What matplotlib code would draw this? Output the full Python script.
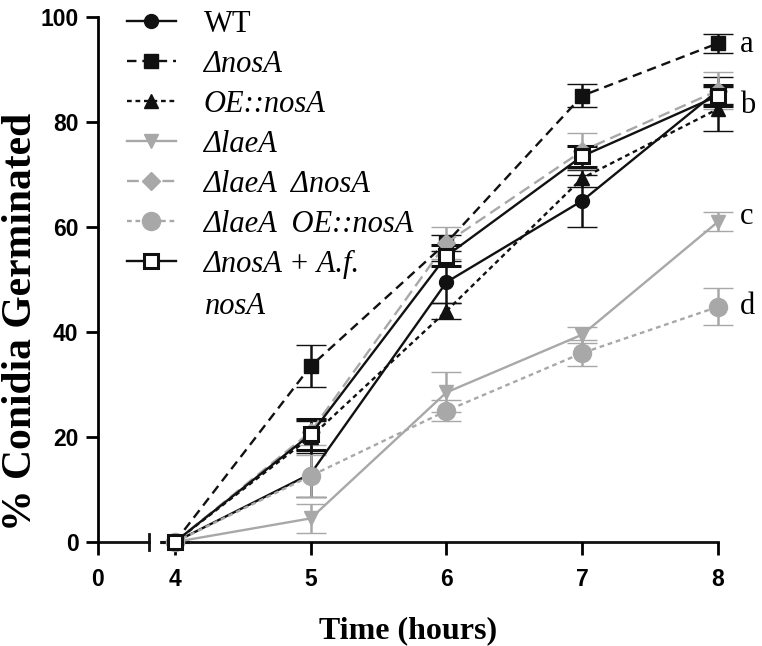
#!/usr/bin/env python3
"""Conidial germination time course, seven strains, broken time axis."""

import matplotlib
matplotlib.use("Agg")
import matplotlib.pyplot as plt

# --- data ---------------------------------------------------------------
hours = [4, 5, 6, 7, 8]

labels = ["WT", "ΔnosA", "OE::nosA", "ΔlaeA", "ΔlaeA  ΔnosA",
          "ΔlaeA  OE::nosA", "ΔnosA + A.f."]
label_tail = "nosA"  # second line of the last legend entry

wt = [0, 13, 49.5, 65, 86]
wt_err = [0, 4.5, 4, 5, 2.5]
nosa = [0, 33.5, 57, 85, 95]
nosa_err = [0, 4, 1.5, 2.2, 1.8]
oe = [0, 20, 44, 69.3, 82.5]
oe_err = [0, 3, 1.5, 1.6, 4.2]
laea = [0, 4.5, 28.5, 39.5, 61]
laea_err = [0, 2.8, 3.8, 1.5, 1.8]
laea_nosa = [0, 21, 57, 74.5, 86]
laea_nosa_err = [0, 2.5, 3, 3.5, 3.5]
laea_oe = [0, 12.6, 25, 36, 44.8]
laea_oe_err = [0, 4, 2, 2.5, 3.5]
comp = [0, 20.5, 54.5, 73.5, 85]
comp_err = [0, 3, 2, 2, 2]

letters = ["a", "b", "c", "d"]
letter_y = [94.7, 83.2, 62, 44.8]

# --- styles --------------------------------------------------------------
BLACK = "#111111"
GREY = "#a8a8a8"

series = [
    (wt, wt_err, dict(color=BLACK, ls="-", marker="o", ms=10)),
    (nosa, nosa_err, dict(color=BLACK, ls=(0, (4, 2.5)), marker="s", ms=10)),
    (oe, oe_err, dict(color=BLACK, ls=(0, (2, 1.6)), marker="^", ms=10)),
    (laea, laea_err, dict(color=GREY, ls="-", marker="v", ms=10)),
    (laea_nosa, laea_nosa_err, dict(color=GREY, ls=(0, (5, 2.5)), marker="D", ms=9)),
    (laea_oe, laea_oe_err, dict(color=GREY, ls=(0, (2, 1.6)), marker="o", ms=13)),
    (comp, comp_err, dict(color=BLACK, ls="-", marker="s", ms=10,
                          mfc="white", mec=BLACK, mew=2.2)),
]

fig = plt.figure(figsize=(7.62, 6.46), dpi=100)
ax = fig.add_axes([98 / 762, 1 - 542 / 646, 620 / 762, 525 / 646])

handles = []
for (y, e, st) in series:
    c = ax.errorbar(hours, y, yerr=e, color=st["color"], ls=st["ls"], lw=1.7,
                    marker=st["marker"], ms=st["ms"],
                    mfc=st.get("mfc", st["color"]), mec=st.get("mec", st["color"]),
                    mew=st.get("mew", 1), elinewidth=1.8, capsize=11, capthick=1.8,
                    clip_on=False)
    for a in c.lines[1] + c.lines[2]:
        a.set_clip_on(False)
    handles.append(c[0])

# broken x axis: "0" sits left of the break
x0 = 3.433
x_break = 3.808
ax.set_xlim(x0, 8)
ax.set_ylim(0, 100)
ax.spines["bottom"].set_visible(False)
ax.spines["top"].set_visible(False)
ax.spines["right"].set_visible(False)
ax.spines["left"].set_linewidth(2)
ax.plot([x0, x_break], [0, 0], color=BLACK, lw=2, clip_on=False, zorder=1)
ax.plot([x_break, x_break], [-1.6, 1.6], color=BLACK, lw=2, clip_on=False, zorder=1)
ax.plot([3.95, 8], [0, 0], color=BLACK, lw=2, clip_on=False, zorder=1)

ax.set_xticks([x0] + hours)
ax.set_xticklabels(["0"] + [str(h) for h in hours])
ax.set_yticks(range(0, 101, 20))
ax.tick_params(direction="out", length=9, width=2, labelsize=16.5)
ax.tick_params(axis="x", pad=10)
ax.tick_params(axis="y", pad=5)
for t in ax.get_xticklabels() + ax.get_yticklabels():
    t.set_fontfamily("Liberation Sans")
    t.set_fontweight("bold")

ax.set_xlabel("Time (hours)", family="Liberation Serif", fontweight="bold",
              fontsize=23, labelpad=18)
ax.set_ylabel("% Conidia Germinated", family="Liberation Serif",
              fontweight="bold", fontsize=30)
ax.yaxis.set_label_coords(-58 / 620, 0.42)

for lt, ly in zip(letters, letter_y):
    ax.annotate(lt, (8, ly), xytext=(16, 0), textcoords="offset points",
                va="center", ha="left", family="Liberation Serif", fontsize=22,
                annotation_clip=False)

leg_font = dict(family="Liberation Serif", style="italic", size=22)
leg = ax.legend(handles, labels, loc="upper left",
                bbox_to_anchor=(127 / 762, 1 - 10 / 646), bbox_transform=fig.transFigure,
                frameon=False, borderpad=0, borderaxespad=0,
                handlelength=1.6, handletextpad=0.9, labelspacing=0.36,
                prop=leg_font)
leg.get_texts()[0].set_fontstyle("normal")
fig.text(205 / 762, 1 - 307 / 646, label_tail, va="center", ha="left", **leg_font)

fig.savefig("out.png", dpi=100)
